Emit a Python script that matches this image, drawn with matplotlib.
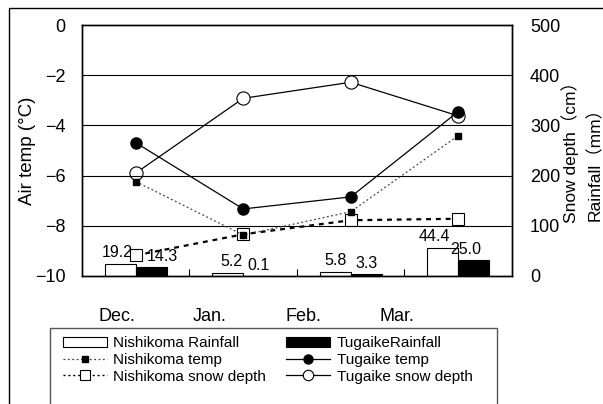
import matplotlib
matplotlib.use("Agg")
import matplotlib.pyplot as plt
from matplotlib.patches import Rectangle
from matplotlib.lines import Line2D
import numpy as np

plt.rcParams['font.family'] = ['Liberation Sans', 'Noto Sans CJK JP', 'DejaVu Sans']

months = ["Dec.", "Jan.", "Feb.", "Mar."]
nishi_rain = [19.2, 5.2, 5.8, 44.4]
tuga_rain = [14.3, 0.1, 3.3, 25.0]
nishi_temp = [-6.24, -8.37, -7.44, -4.41]
tuga_temp = [-4.69, -7.33, -6.85, -3.45]
nishi_snow = [41, 83, 111, 114]
tuga_snow = [205, 354, 386, 319]

# horizontal nudges (points) of the value labels, as placed in the original
nishi_dx = [-2, 3, 0, -6]
tuga_dx = [8, 0, 0, -6]

fig = plt.figure(figsize=(6.03, 4.04), dpi=100)
ax = fig.add_axes([0.136, 0.317, 0.713, 0.621])
ax2 = ax.twinx()
ax3 = ax.twinx()  # hidden rainfall scale

x = np.arange(len(months))
bw = 0.29

# rainfall bars
ax3.bar(x - bw / 2, nishi_rain, bw, color='white', edgecolor='black', linewidth=0.8, zorder=2)
ax3.bar(x + bw / 2, tuga_rain, bw, color='black', edgecolor='black', linewidth=0.8, zorder=2)
for i in range(len(months)):
    ax3.annotate(f"{nishi_rain[i]:.1f}", (x[i] - bw / 2, nishi_rain[i]), xytext=(nishi_dx[i], 3),
                 textcoords='offset points', ha='center', va='bottom', fontsize=11.5)
    ax3.annotate(f"{tuga_rain[i]:.1f}", (x[i] + bw / 2, tuga_rain[i]), xytext=(tuga_dx[i], 2),
                 textcoords='offset points', ha='center', va='bottom', fontsize=11.5)
ax3.set_ylim(0, 400)
ax3.axis('off')

# snow depth on right axis
ax2.plot(x, nishi_snow, color='black', linestyle=(0, (2.2, 2.2)), linewidth=1.6,
         marker='s', markersize=8, markerfacecolor='white', markeredgecolor='black',
         markeredgewidth=0.8, zorder=3)
ax2.plot(x, tuga_snow, color='black', linewidth=0.9, marker='o', markersize=9.5,
         markerfacecolor='white', markeredgecolor='black', markeredgewidth=0.8, zorder=3)

# temperature on left axis
ax.plot(x, nishi_temp, color='#444444', linestyle=(0, (1.5, 2)), linewidth=0.9,
        marker='s', markersize=5, markerfacecolor='black', markeredgecolor='black', zorder=4)
ax.plot(x, tuga_temp, color='black', linewidth=0.9, marker='o', markersize=8,
        markerfacecolor='black', markeredgecolor='black', zorder=4)

ax3.set_zorder(ax.get_zorder() + 1)
ax2.set_zorder(ax3.get_zorder() + 1)
ax.set_zorder(ax2.get_zorder() + 1)
ax.patch.set_visible(False)
ax2.patch.set_visible(False)

ax.set_xlim(-0.5, 3.5)
ax.set_ylim(-10, 0)
ax2.set_ylim(0, 500)
ax.set_yticks([0, -2, -4, -6, -8, -10])
ax.set_yticklabels(["0", "\u22122", "\u22124", "\u22126", "\u22128", "\u221210"])
ax2.set_yticks([0, 100, 200, 300, 400, 500])
for v in [-2, -4, -6, -8]:
    ax.axhline(v, color='black', linewidth=0.8, zorder=1)

# month labels sit a little left of the category centres in the original
ax.set_xticks([-0.174, 0.691, 1.556, 2.43])
ax.set_xticklabels(months)
ax.tick_params(axis='x', length=0, pad=23, labelsize=13)
ax.set_xticks([0.5, 1.5, 2.5], minor=True)
ax.tick_params(axis='x', which='minor', direction='in', length=5, width=0.8)
ax.tick_params(axis='y', length=0, pad=12, labelsize=13)
ax2.tick_params(axis='y', length=0, pad=13, labelsize=13)

for a in (ax, ax2):
    for s in a.spines.values():
        s.set_linewidth(1.0)
        s.set_color('black')

ax.set_ylabel("Air temp (\u00b0C)", fontsize=13.5)
ax.yaxis.set_label_coords(-0.108, 0.5)
fig.text(570 / 603, 1 - 223 / 404, "Snow depth\uff08cm\uff09", rotation=90, ha='center', va='bottom', fontsize=12.5)
fig.text(595 / 603, 1 - 221 / 404, "Rainfall\uff08mm\uff09", rotation=90, ha='center', va='bottom', fontsize=12.5)

# outer frame
fig.patches.append(Rectangle((9 / 603, -0.1), 1.0, 1 - 8 / 404 + 0.1, transform=fig.transFigure,
                             fill=False, edgecolor='black', linewidth=1.0))
# legend frame
fig.patches.append(Rectangle((50 / 603, -0.1), 447 / 603, 1 - 328 / 404 + 0.1, transform=fig.transFigure,
                             fill=False, edgecolor='#555555', linewidth=1.0))

handles = [
    Rectangle((0, 0), 1, 1, facecolor='white', edgecolor='black', linewidth=0.8),
    Line2D([], [], color='#444444', linestyle=(0, (1.5, 2)), linewidth=0.9, marker='s', markersize=5,
           markerfacecolor='black', markeredgecolor='black'),
    Line2D([], [], color='black', linestyle=(0, (1.5, 2)), linewidth=1.0, marker='s', markersize=7,
           markerfacecolor='white', markeredgecolor='black', markeredgewidth=0.8),
    Rectangle((0, 0), 1, 1, facecolor='black', edgecolor='black', linewidth=0.8),
    Line2D([], [], color='black', linewidth=0.9, marker='o', markersize=6.5, markerfacecolor='black'),
    Line2D([], [], color='black', linewidth=0.9, marker='o', markersize=7.5, markerfacecolor='white',
           markeredgewidth=0.8),
]
labels = ["Nishikoma Rainfall", "Nishikoma temp", "Nishikoma snow depth",
          "TugaikeRainfall", "Tugaike temp", "Tugaike snow depth"]
fig.legend(handles, labels, ncol=2, loc='upper left', bbox_to_anchor=(63 / 603, 1 - 336 / 404),
           frameon=False, fontsize=11, handlelength=2.9, handletextpad=0.4,
           columnspacing=1.3, labelspacing=0.18, handleheight=0.65, borderaxespad=0, borderpad=0)

fig.savefig("out.png", dpi=100)
